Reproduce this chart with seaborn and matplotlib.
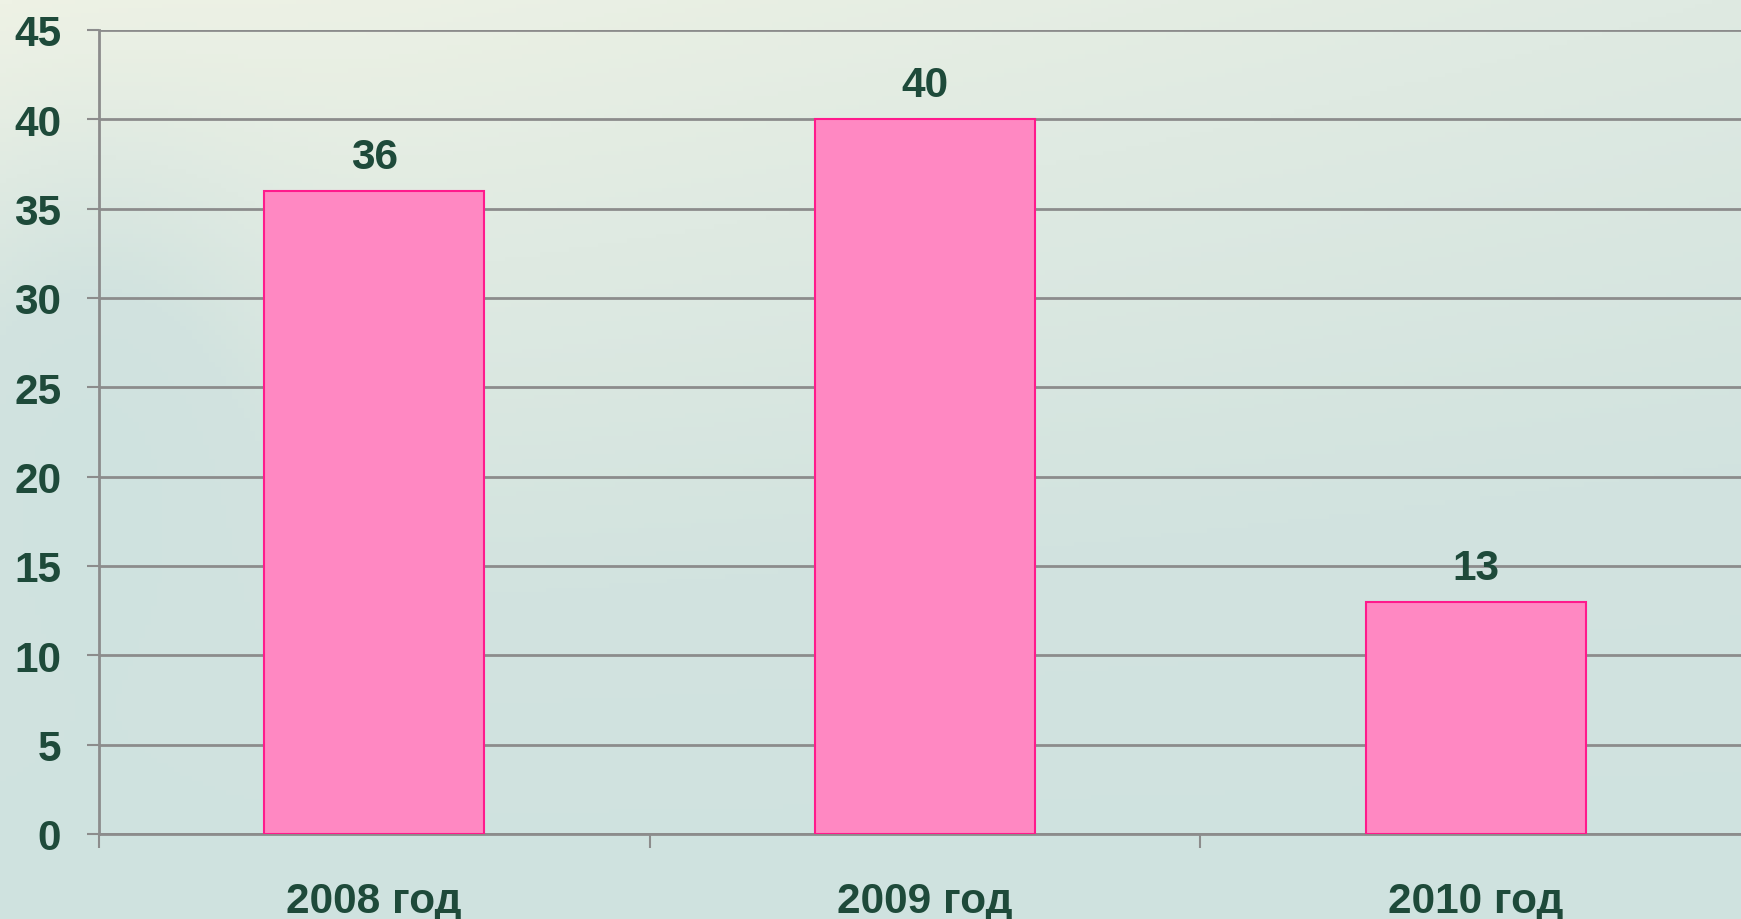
import numpy as np
import pandas as pd
import matplotlib
matplotlib.use("Agg")
import matplotlib.pyplot as plt
import seaborn as sns
from matplotlib.colors import LinearSegmentedColormap

categories = ["2008 год", "2009 год", "2010 год"]
values = [36, 40, 13]
yticks = [0, 5, 10, 15, 20, 25, 30, 35, 40, 45]

sns.set_theme(style="white")
plt.rcParams['font.family'] = ['Liberation Sans', 'DejaVu Sans']

W, H = 1741, 920
fig = plt.figure(figsize=(W / 100, H / 100), dpi=100)

# background gradient
bg = fig.add_axes([0, 0, 1, 1], zorder=-10)
yy, xx = np.mgrid[0:1:200j, 0:1:300j]
field = 0.55 * yy + 0.25 * np.exp(-((xx - 0.05) ** 2) / 0.01) * np.exp(-((yy - 0.45) ** 2) / 0.08) \
    + 0.2 * xx * (1 - yy)
cmap = LinearSegmentedColormap.from_list("bg", ["#eef2e5", "#dfeae2", "#d2e3df", "#cfe2df"])
bg.imshow(field, cmap=cmap, aspect="auto", extent=[0, 1, 0, 1], origin="upper")
bg.set_axis_off()

ax = fig.add_axes([98.7 / W, (H - 835) / H, 1652.4 / W, (835 - 31) / H])
ax.set_facecolor("none")

df = pd.DataFrame({"cat": categories, "val": values})
sns.barplot(data=df, x="cat", y="val", color="#ff88c2", width=0.4,
            edgecolor="#ff1a8c", linewidth=1.5, saturation=1, ax=ax, zorder=3)

text_color = "#1e4a3a"
fs = 30.5
ax.set_ylim(0, 45)
ax.set_xlim(-0.5, 2.5)
ax.set_yticks(yticks)
ax.set_yticklabels([str(t) for t in yticks], fontsize=fs, fontweight="bold", color=text_color)
ax.yaxis.grid(True, color="#8c8c8c", linewidth=2)
ax.set_axisbelow(True)

ax.set_xticks([-0.5, 0.5, 1.5, 2.5])
ax.set_xticklabels([])
ax.set_xticks([0, 1, 2], minor=True)
ax.set_xticklabels(categories, minor=True, fontsize=fs, fontweight="bold", color=text_color)
ax.tick_params(axis="x", which="major", direction="out", length=10, width=1.5, color="#8c8c8c", bottom=True)
ax.tick_params(axis="x", which="minor", length=0, pad=34, bottom=True)
ax.tick_params(axis="y", direction="out", length=9, width=1.5, color="#8c8c8c", pad=18, left=True)

for s in ["top", "right"]:
    ax.spines[s].set_visible(False)
for s in ["left", "bottom"]:
    ax.spines[s].set_color("#8c8c8c")
    ax.spines[s].set_linewidth(2)

ax.set_xlabel("")
ax.set_ylabel("")

for c in ax.containers:
    ax.bar_label(c, labels=[str(v) for v in values], padding=10, fontsize=fs,
                 fontweight="bold", color=text_color)

fig.savefig("out.png", dpi=100)
